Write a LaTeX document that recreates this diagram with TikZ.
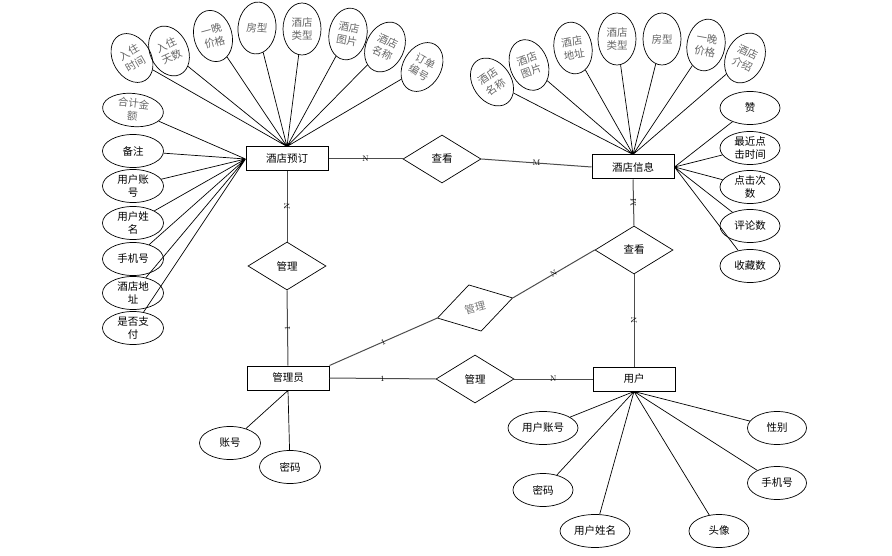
\documentclass[tikz,border=0pt]{standalone}
\usepackage{fontspec}
\newfontfamily\zh{Noto Sans CJK SC}
\usepackage{tikz}
\usetikzlibrary{shapes.geometric, arrows.meta}
\newcommand{\zhf}{\zh\fontsize{10.5}{13}\selectfont}

\begin{document}
\begin{tikzpicture}[x=1pt, y=-1pt,
            ent/.style={draw, line width=1pt, minimum width=82pt, minimum height=24pt, inner sep=0pt, font=\zhf},
            rel/.style={draw, diamond, line width=0.7pt, minimum width=78pt, minimum height=48pt, inner sep=0pt, font=\zhf},
            attr/.style={draw, ellipse, line width=0.7pt, minimum width=61pt, minimum height=33pt, inner sep=0pt, align=center, font=\zhf},
            fan/.style={attr, minimum width=38pt, minimum height=52pt, text=black!60},
            link/.style={draw=black!70, line width=1pt},
            card/.style={font=\footnotesize, inner sep=1pt}]
            \useasboundingbox (0,0) rectangle (892,556);

            \node[ent] (ord) at (287,159) {酒店预订};
            \node[ent] (hotel) at (633,167) {酒店信息};
            \node[ent] (admin) at (288,378) {管理员};
            \node[ent] (user) at (634,379) {用户};

            \node[rel] (seeA) at (442,159) {查看};
            \node[rel] (mgA) at (287,266) {管理};
            \node[rel] (seeB) at (634,250) {查看};
            \node[rel, rotate=15, text=black!55] (mgB) at (475,308) {管理};
            \node[rel] (mgC) at (475,379) {管理};

            \draw[link] (ord.east) -- node[card] {N} (seeA.west);
            \draw[link] (seeA.east) -- node[card] {M} (hotel.west);
            \draw[link] (ord.south) -- node[card, rotate=90] {N} (mgA.north);
            \draw[link] (mgA.south) -- node[card, rotate=90] {1} (admin.north);
            \draw[link] (hotel.south) -- node[card, rotate=90] {M} (seeB.north);
            \draw[link] (seeB.south) -- node[card, rotate=90] {N} (user.north);
            \draw[link] (admin.north east) -- node[card, sloped] {1} (mgB.west);
            \draw[link] (mgB.east) -- node[card, sloped] {N} (seeB.west);
            \draw[link] (admin.east) -- node[card] {1} (mgC.west);
            \draw[link] (mgC.east) -- node[card] {N} (user.west);

            \node[fan, rotate=30] (o1) at (132,58) {入住\\时间};
            \node[fan, rotate=25] (o2) at (169,51) {入住\\天数};
            \node[fan, rotate=15] (o3) at (213,36) {一晚\\价格};
            \node[fan, rotate=-5] (o4) at (257,28) {房型};
            \node[fan] (o5) at (302,29) {酒店\\类型};
            \node[fan, rotate=-10] (o6) at (348,34) {酒店\\图片};
            \node[fan, rotate=-25] (o7) at (385,47) {酒店\\名称};
            \node[fan, rotate=-30] (o8) at (422,67) {订单\\编号};
            \draw[line width=0.7pt] (ord.north) -- (o1) (ord.north) -- (o2) (ord.north) -- (o3) (ord.north) -- (o4)
                (ord.north) -- (o5) (ord.north) -- (o6) (ord.north) -- (o7) (ord.north) -- (o8);

            \node[attr, rotate=-6, text=black!60] (l1) at (133,110) {合计金\\额};
            \node[attr] (l2) at (133,151) {备注};
            \node[attr] (l3) at (133,186) {用户账\\号};
            \node[attr] (l4) at (133,223) {用户姓\\名};
            \node[attr] (l5) at (133,259) {手机号};
            \node[attr] (l6) at (133,293) {酒店地\\址};
            \node[attr] (l7) at (133,328) {是否支\\付};
            \draw[line width=0.7pt] (ord.west) -- (l1) (ord.west) -- (l2) (ord.west) -- (l3) (ord.west) -- (l4)
                (ord.west) -- (l5) (ord.west) -- (l6) (ord.west) -- (l7);

            \node[fan, rotate=35] (h1) at (492,82) {酒店\\名称};
            \node[fan, rotate=20] (h2) at (529,65) {酒店\\图片};
            \node[fan, rotate=10] (h3) at (573,48) {酒店\\地址};
            \node[fan] (h4) at (617,39) {酒店\\类型};
            \node[fan] (h5) at (662,39) {房型};
            \node[fan, rotate=-10] (h6) at (706,45) {一晚\\价格};
            \node[fan, rotate=-25] (h7) at (745,58) {酒店\\介绍};
            \draw[line width=0.7pt] (hotel.north) -- (h1) (hotel.north) -- (h2) (hotel.north) -- (h3) (hotel.north) -- (h4)
                (hotel.north) -- (h5) (hotel.north) -- (h6) (hotel.north) -- (h7);

            \node[attr, minimum width=60pt] (r1) at (750,108) {赞};
            \node[attr, minimum width=60pt] (r2) at (750,148) {最近点\\击时间};
            \node[attr, minimum width=60pt] (r3) at (750,187) {点击次\\数};
            \node[attr, minimum width=60pt] (r4) at (750,226) {评论数};
            \node[attr, minimum width=60pt] (r5) at (750,266) {收藏数};
            \draw[line width=0.7pt] (hotel.east) -- (r1) (hotel.east) -- (r2) (hotel.east) -- (r3)
                (hotel.east) -- (r4) (hotel.east) -- (r5);

            \node[attr] (a1) at (230,443) {账号};
            \node[attr] (a2) at (290,467) {密码};
            \draw[line width=0.7pt] (admin.south) -- (a1) (admin.south) -- (a2);

            \node[attr, minimum width=70pt] (u1) at (543,428) {用户账号};
            \node[attr, minimum width=59pt] (u2) at (777,428) {性别};
            \node[attr, minimum width=60pt] (u3) at (543,490) {密码};
            \node[attr, minimum width=59pt] (u4) at (777,483) {手机号};
            \node[attr, minimum width=70pt] (u5) at (595,531) {用户姓名};
            \node[attr, minimum width=60pt] (u6) at (719,531) {头像};
            \draw[line width=0.7pt] (user.south) -- (u1) (user.south) -- (u2) (user.south) -- (u3)
                (user.south) -- (u4) (user.south) -- (u5) (user.south) -- (u6);
        \end{tikzpicture}
\end{document}
